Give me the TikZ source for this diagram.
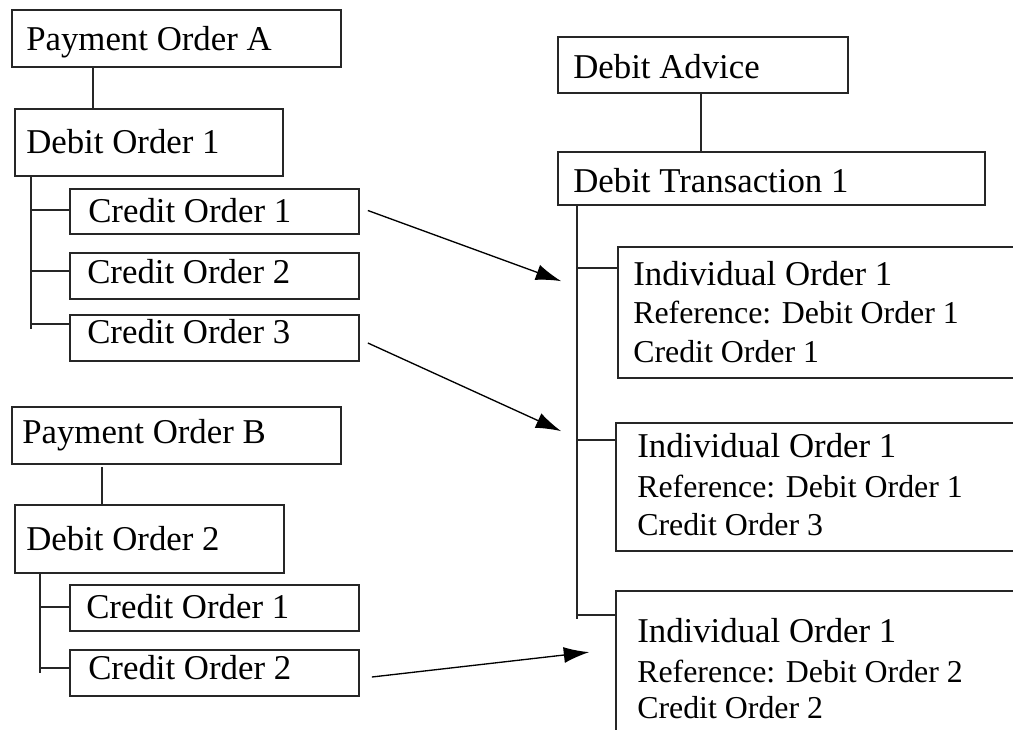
\documentclass[tikz,border=0pt]{standalone}
\usepackage{fontspec}
\setmainfont{Liberation Serif}
\usetikzlibrary{fit,calc,arrows.meta}
\tikzset{
  box/.style={draw=black!85, line width=1.3pt, rectangle, inner sep=0pt},
  lbl/.style={anchor=base west, inner sep=0pt, font=\fontsize{26.1}{30}\selectfont},
  sml/.style={anchor=base west, inner sep=0pt, font=\fontsize{23.9}{28}\selectfont},
  link/.style={draw=black!85, line width=1pt},
  arr/.style={draw=black, line width=1pt, -{Latex[length=19pt,width=12pt]}}
}
\begin{document}
\begin{tikzpicture}[x=0.75pt,y=-0.75pt]
\useasboundingbox (0,0) rectangle (1013,729);
\clip (0,0) rectangle (1013,729);
% boxes
\node[box, fit={(12,10)(341,67)}] (poa) {};
\node[box, fit={(15,109)(283,176)}] (do1) {};
\node[box, fit={(70,189)(359,234)}] (co1) {};
\node[box, fit={(70,253)(359,299)}] (co2) {};
\node[box, fit={(70,315)(359,361)}] (co3) {};
\node[box, fit={(12,407)(341,464)}] (pob) {};
\node[box, fit={(15,505)(284,573)}] (do2) {};
\node[box, fit={(70,585)(359,631)}] (cob1) {};
\node[box, fit={(70,650)(359,696)}] (cob2) {};
\node[box, fit={(558,37)(848,93)}] (da) {};
\node[box, fit={(558,152)(985,205)}] (dt) {};
\node[box, fit={(618,247)(1030,378)}] (io1) {};
\node[box, fit={(616,423)(1030,551)}] (io2) {};
\node[box, fit={(616,591)(1030,745)}] (io3) {};
% texts
\node[lbl] (tpoa) at (26,50) {Payment Order A};
\node[lbl] (tdo1) at (26,153) {Debit Order 1};
\node[lbl] (tco1) at (88,222) {Credit Order 1};
\node[lbl] (tco2) at (87,283) {Credit Order 2};
\node[lbl] (tco3) at (87,343) {Credit Order 3};
\node[lbl] (tpob) at (22,443) {Payment Order B};
\node[lbl] (tdo2) at (26,550) {Debit Order 2};
\node[lbl] (tcob1) at (86,618) {Credit Order 1};
\node[lbl] (tcob2) at (88,679) {Credit Order 2};
\node[lbl] (tda) at (573,78) {Debit Advice};
\node[lbl] (tdt) at (573,192) {Debit Transaction 1};
\node[lbl] (tio1a) at (633,285) {Individual Order 1};
\node[sml] (tio1b) at (633,323) {Reference: Debit Order 1};
\node[sml] (tio1c) at (633,362) {Credit Order 1};
\node[lbl] (tio2a) at (637,457) {Individual Order 1};
\node[sml] (tio2b) at (637,497) {Reference: Debit Order 1};
\node[sml] (tio2c) at (637,535) {Credit Order 3};
\node[lbl] (tio3a) at (637,642) {Individual Order 1};
\node[sml] (tio3b) at (637,682) {Reference: Debit Order 2};
\node[sml] (tio3c) at (637,718) {Credit Order 2};
% helper coordinates
\coordinate (pa) at ($(poa.south west)+(82,0)$);
\coordinate (ta) at ($(do1.south west)+(17,0)$);
\coordinate (ea) at ($(ta)+(0,152)$);
\coordinate (ba1) at ($(co1.north west)+(0,22)$);
\coordinate (ba2) at ($(co2.north west)+(0,19)$);
\coordinate (ba3) at ($(co3.north west)+(0,10)$);
\coordinate (pb) at ($(pob.south west)+(91,2)$);
\coordinate (tb) at ($(do2.south west)+(26,0)$);
\coordinate (eb) at ($(tb)+(0,99)$);
\coordinate (bb1) at ($(cob1.north west)+(0,23)$);
\coordinate (bb2) at ($(cob2.north west)+(0,19)$);
\coordinate (pr) at ($(da.south west)+(144,0)$);
\coordinate (tr) at ($(dt.south west)+(20,0)$);
\coordinate (er) at ($(tr)+(0,413)$);
\coordinate (br1) at ($(io1.north west)+(0,22)$);
\coordinate (br2) at ($(io2.north west)+(0,18)$);
\coordinate (br3) at ($(io3.north west)+(0,25)$);
% tree lines left A
\draw[link] (pa) -- (pa |- do1.north);
\draw[link] (ta) -- (ea);
\draw[link] (ba1) -- (ba1 -| ta);
\draw[link] (ba2) -- (ba2 -| ta);
\draw[link] (ba3) -- (ba3 -| ta);
% tree lines left B
\draw[link] (pb) -- (pb |- do2.north);
\draw[link] (tb) -- (eb);
\draw[link] (bb1) -- (bb1 -| tb);
\draw[link] (bb2) -- (bb2 -| tb);
% tree lines right
\draw[link] (pr) -- (pr |- dt.north);
\draw[link] (tr) -- (er);
\draw[link] (br1) -- (br1 -| tr);
\draw[link] (br2) -- (br2 -| tr);
\draw[link] (br3) -- (br3 -| tr);
% arrows
\draw[arr] ($(co1.east)+(8,-1)$) -- ($(io1.north west)+(-56,35)$);
\draw[arr] ($(co3.east)+(8,5)$) -- ($(io2.north west)+(-54,9)$);
\draw[arr] ($(cob2.east)+(12,4)$) -- ($(io3.north west)+(-26,62)$);
\end{tikzpicture}
\end{document}
